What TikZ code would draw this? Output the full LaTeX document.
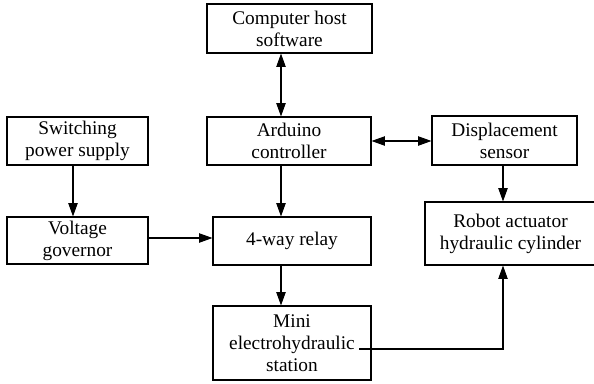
\documentclass[tikz,border=0pt]{standalone}
\usepackage{fontspec}
\setmainfont{Liberation Serif}
\usetikzlibrary{arrows.meta,calc}
\begin{document}
\begin{tikzpicture}[x=0.75pt,y=-0.75pt,
  blk/.style={draw,line width=0.8pt,inner sep=0pt,align=center,
    font=\fontsize{14.5}{16.5}\selectfont},
  conn/.style={line width=0.8pt,-{Triangle[length=10pt,width=7pt]}},
  dconn/.style={line width=0.8pt,{Triangle[length=10pt,width=7pt]}-{Triangle[length=10pt,width=7pt]}}]
\useasboundingbox (0,0) rectangle (594,383);
\node[blk,minimum width=123.75pt,minimum height=36.75pt] (comp) at (289.5,28.5) {Computer host\\software};
\node[blk,minimum width=123pt,minimum height=36pt] (ard) at (289,141) {Arduino\\controller};
\node[blk,minimum width=105.75pt,minimum height=36pt] (sw) at (77.5,141) {Switching\\power supply};
\node[blk,minimum width=108.75pt,minimum height=36.75pt] (disp) at (504.5,140.5) {Displacement\\sensor};
\node[blk,minimum width=105.75pt,minimum height=35.25pt] (volt) at (77.5,240.5) {Voltage\\governor};
\node[blk,minimum width=118.5pt,minimum height=36pt] (relay) at (292,241) {4-way relay};
\node[blk,minimum width=128.25pt,minimum height=47.25pt] (robot) at (510.5,233.5) {Robot actuator\\hydraulic cylinder};
\node[blk,minimum width=118.5pt,minimum height=55.5pt] (mini) at (292,343) {Mini\\electrohydraulic\\station};
\coordinate (cx) at (281,0);
\coordinate (sx) at (73,0);
\coordinate (dx) at (503,0);
\coordinate (vy) at (0,238);
\coordinate (mstart) at (359,349);
\draw[dconn] (comp.south -| cx) -- (ard.north -| cx);
\draw[dconn] (ard.east) -- (disp.west |- ard.east);
\draw[conn] (sw.south -| sx) -- (volt.north -| sx);
\draw[conn] (ard.south -| cx) -- (relay.north -| cx);
\draw[conn] (volt.east |- vy) -- (relay.west |- vy);
\draw[conn] (disp.south -| dx) -- (robot.north -| dx);
\draw[conn] (relay.south -| cx) -- (mini.north -| cx);
\draw[conn] (mstart) -| (robot.south -| dx);
\end{tikzpicture}
\end{document}
